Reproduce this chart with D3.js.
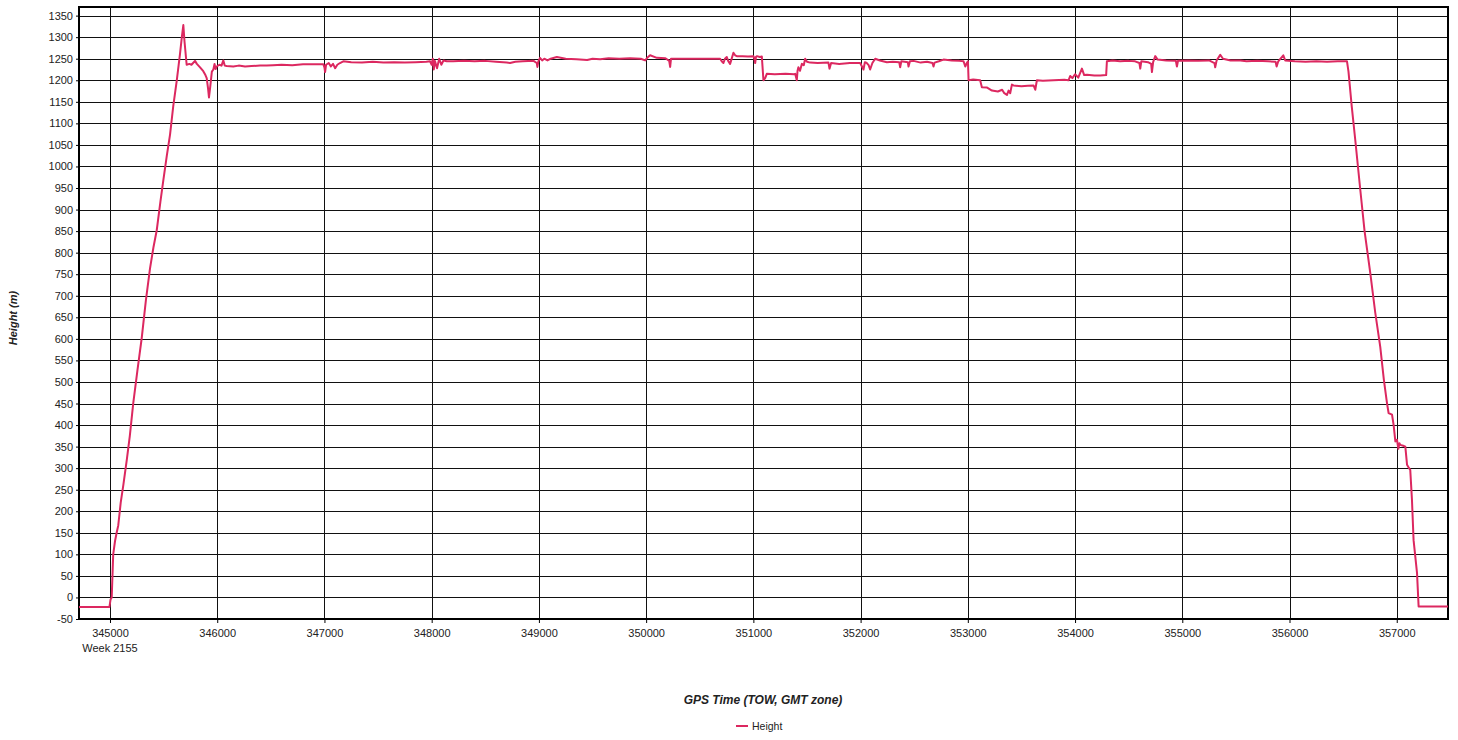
<!DOCTYPE html>
<html>
<head>
<meta charset="utf-8">
<script src="https://cdn.jsdelivr.net/npm/d3@7"></script>
<style>
  html, body { margin: 0; padding: 0; background: #fff; }
  svg { display: block; font-family: "Liberation Sans", Arial, sans-serif; }
</style>
</head>
<body>
<svg id="chart" width="1458" height="740"></svg>
<script>
// ---- data ----
const seriesName = "Height";
const xTicks = [345000, 346000, 347000, 348000, 349000, 350000, 351000, 352000, 353000, 354000, 355000, 356000, 357000];
const yTicks = [-50, 0, 50, 100, 150, 200, 250, 300, 350, 400, 450, 500, 550, 600, 650, 700, 750, 800, 850, 900, 950, 1000, 1050, 1100, 1150, 1200, 1250, 1300, 1350];
const weekLabel = "Week 2155";
const xTitle = "GPS Time (TOW, GMT zone)";
const yTitle = "Height (m)";
const xDomain = [344711, 357478];
const yDomain = [-50, 1370];

const gpsTime = [
  344711, 344995, 345005, 345016, 345030, 345047, 345062, 345077, 345100, 345125, 345156, 345185, 345217, 345255, 345296, 345335, 345373, 345405, 345436, 345470, 345497, 345530, 345560, 345590, 345622, 345653, 345670, 345684, 345695, 345715,
  345740, 345760, 345775, 345793, 345810, 345840, 345870, 345890, 345902, 345915, 345923, 345935, 345950, 345964, 345975, 345985, 345995, 346020, 346040, 346057, 346070, 346088, 346150, 346200, 346260, 346320, 346400, 346461, 346520, 346600, 346700, 346800, 346900, 346990, 347000, 347006, 347015, 347040, 347060, 347080, 347100, 347120, 347145, 347176, 347250, 347350, 347450, 347550, 347650, 347750, 347850, 347950, 347985,
  348000, 348010, 348020, 348030, 348050, 348070, 348090, 348110, 348141, 348200, 348300, 348400, 348500, 348600, 348700, 348731, 348780, 348850, 348950, 348980, 348986, 348995, 349010, 349030, 349050, 349080, 349110, 349167, 349250, 349350, 349450, 349500, 349571, 349650, 349750, 349850, 349950, 349991, 350010, 350037, 350100, 350180, 350215, 350224, 350232, 350300, 350400, 350504, 350600, 350690, 350705, 350721, 350735, 350752, 350765, 350783, 350800, 350814, 350830, 350846, 350900, 350950, 351001, 351010, 351017, 351024, 351032, 351060, 351079,
  351094, 351110, 351125, 351200, 351300, 351380, 351390, 351400, 351405, 351412, 351420, 351435, 351452, 351470, 351483, 351500, 351530, 351600, 351700, 351710, 351725, 351800, 351900, 351996, 352027, 352040, 352058, 352075, 352089, 352110, 352136, 352180, 352245, 352300, 352360, 352369, 352380, 352440, 352447, 352460, 352494, 352560, 352620, 352670, 352680, 352690, 352730, 352773, 352850, 352920, 352960, 352976, 352990, 353001,
  353007, 353050, 353115, 353131, 353180, 353225, 353280, 353320, 353340, 353365, 353380, 353395, 353411, 353426, 353500, 353560, 353613, 353629, 353644, 353700, 353800, 353900, 353939, 353955, 353975, 354000, 354030, 354064, 354085, 354111, 354180, 354235, 354290,
  354297, 354350, 354420, 354500, 354560, 354600, 354608, 354618, 354680, 354710, 354717, 354728, 354748, 354770, 354850, 354940, 354950, 354960, 355050, 355150, 355250, 355300, 355307, 355320, 355354, 355380, 355450, 355541, 355600, 355700, 355800, 355870, 355880, 355895, 355942, 355960, 356050, 356150, 356250, 356350, 356450, 356536,
  356550, 356580, 356613, 356660, 356700, 356753, 356800, 356846, 356880, 356909, 356924, 356940, 356956, 356971, 356987, 357002, 357015, 357025, 357033, 357060, 357080, 357096, 357115, 357126, 357142, 357157, 357189, 357204, 357478
];
const heightM = [
  -22, -22, -5, 0, 100, 131, 150, 167, 220, 262, 318, 375, 451, 525, 602, 690, 763, 812, 852, 918, 967, 1025, 1074, 1140, 1198, 1261, 1300, 1328, 1290, 1236,
  1238, 1236, 1240, 1245, 1238, 1230, 1221, 1212, 1205, 1180, 1160, 1185, 1220, 1225, 1238, 1226, 1232, 1236, 1234, 1246, 1234, 1233, 1232, 1234, 1232, 1233, 1234, 1234, 1235, 1236, 1235, 1237, 1237, 1237, 1230, 1219, 1236, 1240, 1232, 1238, 1228, 1236, 1240, 1244, 1242, 1241, 1243, 1241, 1242, 1241, 1242, 1243, 1244,
  1236, 1250, 1225, 1245, 1228, 1250, 1236, 1246, 1244, 1244, 1245, 1244, 1245, 1243, 1241, 1240, 1243, 1244, 1245, 1240, 1231, 1244, 1252, 1246, 1250, 1246, 1250, 1254, 1250, 1249, 1247, 1250, 1249, 1251, 1250, 1251, 1250, 1246, 1252, 1258, 1252, 1251, 1245, 1231, 1250, 1250, 1250, 1250, 1250, 1250, 1244, 1240, 1250, 1254, 1245, 1238, 1252, 1264, 1258, 1256, 1256, 1255, 1256, 1250, 1240, 1254, 1256, 1254, 1255,
  1200, 1205, 1215, 1214, 1215, 1214, 1215, 1205, 1200, 1222, 1230, 1222, 1238, 1235, 1250, 1243, 1241, 1240, 1241, 1227, 1240, 1238, 1240, 1240, 1225, 1242, 1240, 1235, 1225, 1240, 1250, 1246, 1242, 1243, 1242, 1230, 1244, 1242, 1232, 1244, 1245, 1241, 1243, 1240, 1232, 1241, 1244, 1248, 1246, 1245, 1244, 1232, 1240, 1244,
  1200, 1202, 1200, 1184, 1183, 1176, 1174, 1178, 1170, 1166, 1176, 1170, 1190, 1188, 1186, 1187, 1188, 1178, 1200, 1199, 1200, 1201, 1200, 1210, 1205, 1214, 1206, 1227, 1212, 1213, 1211, 1211, 1212,
  1244, 1246, 1244, 1245, 1244, 1240, 1227, 1244, 1242, 1238, 1219, 1242, 1256, 1248, 1246, 1245, 1232, 1245, 1246, 1245, 1246, 1240, 1230, 1246, 1259, 1250, 1246, 1246, 1244, 1245, 1244, 1243, 1232, 1244, 1258, 1246, 1244, 1243, 1244, 1243, 1244, 1244,
  1220, 1140, 1062, 946, 850, 753, 660, 582, 505, 451, 428, 426, 424, 400, 362, 366, 345, 358, 354, 352, 350, 308, 300, 296, 226, 133, 57, -21, -21
];

// ---- layout ----
const plotL = 79, plotR = 1448, plotT = 7, plotB = 619;
const lineColor = "#dc2860";
const textColor = "#222";
const plainNum = d => String(d);

const svg = d3.select("#chart");
const x = d3.scaleLinear().domain(xDomain).range([plotL, plotR]);
const y = d3.scaleLinear().domain(yDomain).range([plotB, plotT]);

// gridlines
svg.append("g")
  .attr("transform", `translate(0,${plotB})`)
  .call(d3.axisBottom(x).tickValues(xTicks).tickSize(-(plotB - plotT)).tickFormat(""))
  .call(g => g.select(".domain").remove())
  .call(g => g.selectAll("line").attr("stroke", "#111").attr("stroke-width", 1).attr("shape-rendering", "crispEdges"));
svg.append("g")
  .attr("transform", `translate(${plotL},0)`)
  .call(d3.axisLeft(y).tickValues(yTicks).tickSize(-(plotR - plotL)).tickFormat(""))
  .call(g => g.select(".domain").remove())
  .call(g => g.selectAll("line").attr("stroke", "#111").attr("stroke-width", 1).attr("shape-rendering", "crispEdges"));

// frame
svg.append("rect")
  .attr("x", plotL).attr("y", plotT).attr("width", plotR - plotL).attr("height", plotB - plotT)
  .attr("fill", "none").attr("stroke", "#000").attr("stroke-width", 2);

// axes labels
const yAxis = svg.append("g")
  .attr("transform", `translate(${plotL},0)`)
  .call(d3.axisLeft(y).tickValues(yTicks).tickSize(3).tickPadding(3).tickFormat(plainNum));
yAxis.select(".domain").remove();
yAxis.selectAll("line").attr("stroke", "#000");
yAxis.selectAll("text").attr("font-size", 11).attr("fill", textColor)
  .attr("font-family", "'Liberation Sans', Arial, sans-serif");

const xAxis = svg.append("g")
  .attr("transform", `translate(0,${plotB})`)
  .call(d3.axisBottom(x).tickValues(xTicks).tickSize(4).tickPadding(6).tickFormat(plainNum));
xAxis.select(".domain").remove();
xAxis.selectAll("line").attr("stroke", "#000");
xAxis.selectAll("text").attr("font-size", 11).attr("fill", textColor)
  .attr("font-family", "'Liberation Sans', Arial, sans-serif");

svg.append("text")
  .attr("x", x(xTicks[0])).attr("y", 652)
  .attr("text-anchor", "middle").attr("font-size", 11).attr("fill", textColor)
  .text(weekLabel);

// line
const pts = gpsTime.map((t, i) => [t, heightM[i]]);
svg.append("path")
  .datum(pts)
  .attr("fill", "none")
  .attr("stroke", lineColor)
  .attr("stroke-width", 2)
  .attr("stroke-linejoin", "round")
  .attr("d", d3.line().x(d => x(d[0])).y(d => y(d[1])));

// titles
svg.append("text")
  .attr("x", 763).attr("y", 704)
  .attr("text-anchor", "middle").attr("font-size", 12)
  .attr("font-weight", "bold").attr("font-style", "italic").attr("fill", textColor)
  .text(xTitle);

svg.append("text")
  .attr("transform", `translate(17,${(plotT + plotB) / 2 + 5}) rotate(-90)`)
  .attr("text-anchor", "middle").attr("font-size", 11)
  .attr("font-weight", "bold").attr("font-style", "italic").attr("fill", textColor)
  .text(yTitle);

// legend
const lg = svg.append("g");
lg.append("line").attr("x1", 736).attr("x2", 748).attr("y1", 726).attr("y2", 726)
  .attr("stroke", lineColor).attr("stroke-width", 2);
lg.append("text").attr("x", 752).attr("y", 730).attr("font-size", 10.5).attr("fill", textColor)
  .text(seriesName);
</script>
</body>
</html>
